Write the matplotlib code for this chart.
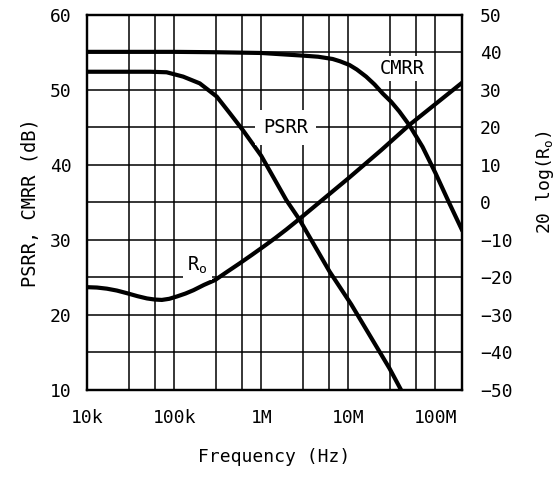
import numpy as np
import matplotlib
matplotlib.use("Agg")
import matplotlib.pyplot as plt

# Values
freq_ticks = [1e4, 1e5, 1e6, 1e7, 1e8]
freq_tick_labels = ["10k", "100k", "1M", "10M", "100M"]
freq_grid = [3e4, 6e4, 3e5, 6e5, 3e6, 6e6, 3e7, 6e7]

cmrr_freq = [1e4, 1e5, 3e5, 1e6, 3e6, 4.5e6, 6.6e6, 8e6, 1.03e7, 1.25e7, 1.6e7, 2e7, 2.48e7,
             3.1e7, 3.85e7, 5e7, 7.1e7, 1e8, 1.44e8, 2e8]
cmrr_db = [55.05, 55.05, 55.0, 54.9, 54.55, 54.4, 54.1, 53.8, 53.3, 52.7, 51.75, 50.7, 49.5,
           48.4, 47.1, 45.3, 42.4, 38.9, 34.9, 31.4]

psrr_freq = [1e4, 5.3e4, 8.2e4, 1.27e5, 1.97e5, 3.08e5, 4.34e5, 6.17e5, 1e6, 1.94e6, 2.75e6,
             6.07e6, 1.08e7, 2.96e7, 4.03e7]
psrr_db = [52.4, 52.4, 52.33, 51.75, 50.85, 49.1, 46.9, 44.6, 41.2, 35.3, 32.7,
           25.8, 21.4, 12.9, 10.0]

ro_freq = [1e4, 1.3e4, 1.69e4, 2.2e4, 2.87e4, 3.8e4, 4.87e4, 6e4, 7.23e4, 8.8e4, 1.07e5, 1.35e5,
           1.67e5, 2.2e5, 2.95e5, 4e5, 5.7e5, 7.8e5, 1.06e6, 1.45e6, 1.95e6, 2.75e6, 1e7, 2.38e7, 5e7, 2e8]
ro_db = [-22.6, -22.7, -23.0, -23.5, -24.2, -25.0, -25.6, -25.9, -26.0, -25.7, -25.1, -24.3,
         -23.4, -22.0, -20.7, -18.6, -16.2, -14.0, -11.8, -9.5, -7.2, -4.4, 6.4, 13.9, 20.6, 31.8]

left_ticks = [10, 20, 30, 40, 50, 60]
left_grid = [15, 25, 35, 45, 55]
right_ticks = [-50, -40, -30, -20, -10, 0, 10, 20, 30, 40, 50]

plt.rcParams["font.family"] = "DejaVu Sans Mono"
plt.rcParams["mathtext.default"] = "regular"
plt.rcParams["font.size"] = 13

fig = plt.figure(figsize=(5.6, 4.79), dpi=100)
ax = fig.add_axes([87 / 560, 1 - 390 / 479, (461.7 - 87) / 560, (390 - 14.7) / 479])
ax2 = ax.twinx()

ax.set_xscale("log")
ax.set_xlim(1e4, 2e8)
ax.set_ylim(10, 60)
ax2.set_ylim(-50, 50)

ax.set_xticks(freq_ticks)
ax.set_xticklabels(freq_tick_labels)
ax.set_xticks(freq_grid, minor=True)
ax.xaxis.set_minor_formatter(matplotlib.ticker.NullFormatter())
ax.set_yticks(left_ticks)
ax.set_yticks(left_grid, minor=True)
ax2.set_yticks(right_ticks)

ax.grid(True, which="both", color="black", linewidth=1.1)
ax.set_axisbelow(True)
ax.tick_params(which="both", length=0, labelsize=13)
ax.tick_params(axis="y", pad=11)
ax.tick_params(axis="x", pad=14)
ax2.tick_params(length=0, labelsize=13, pad=13)

for a in (ax, ax2):
    for s in a.spines.values():
        s.set_linewidth(1.6)

ax.plot(cmrr_freq, cmrr_db, color="black", lw=3.0)
ax.plot(psrr_freq, psrr_db, color="black", lw=3.0)
ax2.plot(ro_freq, ro_db, color="black", lw=3.0)

# curve labels with white boxes that break the grid
ax.text(4.17e7, 52.8, "CMRR", ha="center", va="center", fontsize=13.5,
        bbox=dict(facecolor="white", edgecolor="none", pad=2))
ax.text(1.9e6, 45, "PSRR", ha="center", va="center", fontsize=13.5,
        bbox=dict(facecolor="white", edgecolor="none", pad=6))
ax2.text(1.85e5, -16.8, "R$_o$", ha="center", va="center", fontsize=13.5,
         bbox=dict(facecolor="white", edgecolor="none", pad=3))

ax.set_xlabel("Frequency (Hz)", fontsize=13, labelpad=15)
ax.set_ylabel("PSRR, CMRR (dB)", fontsize=13.5, labelpad=7)
fig.text(545 / 560, 1 - 182 / 479, "20 log(R$_o$)", rotation=90, ha="center", va="center",
         fontsize=13)

fig.savefig("out.png", dpi=100, facecolor="white")
